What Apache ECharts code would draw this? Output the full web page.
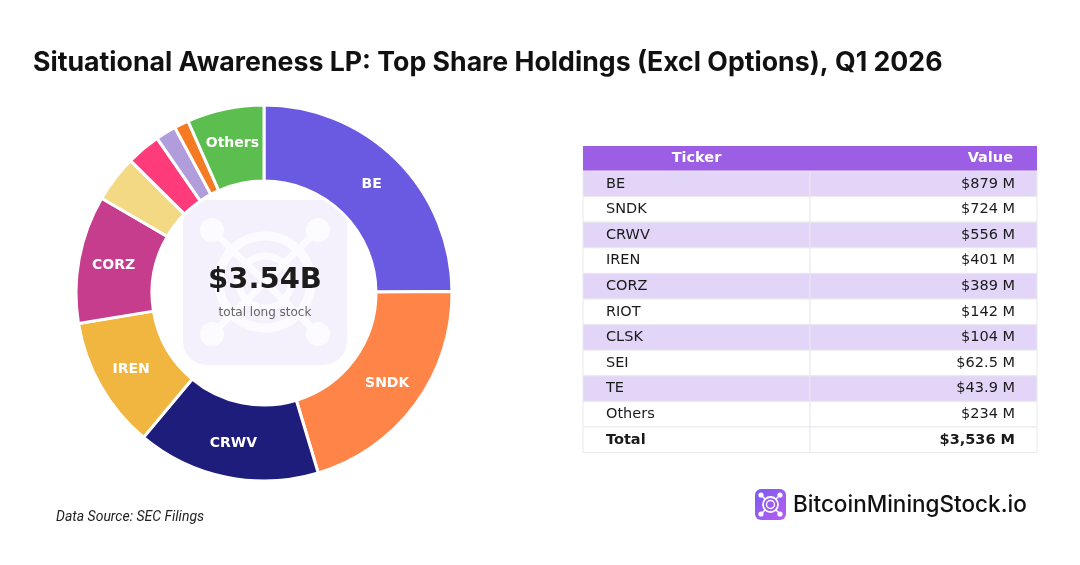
<!DOCTYPE html>
<html><head><meta charset="utf-8">
<script src="https://cdn.jsdelivr.net/npm/echarts@6/dist/echarts.min.js"></script>
<style>html,body{margin:0;padding:0;background:#fff}#c{width:1080px;height:565px}</style>
</head><body><div id="c"></div>
<script>
const tickers = ['BE','SNDK','CRWV','IREN','CORZ','RIOT','CLSK','SEI','TE','Others'];
const valuesM = [879,724,556,401,389,142,104,62.5,43.9,234];
const sliceColors = ['#6a59e1','#ff8447','#1e1d7b','#f0b63f','#c63d8e','#f4d984','#ff3b7b','#b19ddb','#f47b22','#5cbe4f'];
const labelledTickers = ['BE','SNDK','CRWV','IREN','CORZ','Others'];
const totalM = 3536;
const titleText = 'Situational Awareness LP: Top Share Holdings (Excl Options), Q1 2026';

function fmtM(v){ return '$' + (v < 100 ? v.toFixed(1) : Math.round(v).toLocaleString('en-US')) + ' M'; }

const chart = echarts.init(document.getElementById('c'), null, {renderer:'canvas'});

// table layout
const TX = 583, TY = 146, TW = 454, TC = 227, HH = 25, RH = 25.6;
const tableEls = [];
tableEls.push({type:'rect', shape:{x:TX,y:TY,width:TW,height:HH}, style:{fill:'#9b5ee5'}});
tableEls.push({type:'text', x:TX+TC/2, y:TY+HH/2, style:{text:'Ticker', fill:'#fff', font:'bold 14.5px "DejaVu Sans"', align:'center', verticalAlign:'middle'}});
tableEls.push({type:'text', x:TX+TW-24, y:TY+HH/2, style:{text:'Value', fill:'#fff', font:'bold 14.5px "DejaVu Sans"', align:'right', verticalAlign:'middle'}});
const rowNames = tickers.concat(['Total']);
const rowVals = valuesM.concat([totalM]);
rowNames.forEach((n,i)=>{
  const y = TY + HH + i*RH;
  const isTotal = i === rowNames.length-1;
  const fill = (!isTotal && i%2===0) ? '#e2d5f7' : '#ffffff';
  tableEls.push({type:'rect', shape:{x:TX,y:y,width:TC,height:RH}, style:{fill:fill, stroke:'#e9e9ee', lineWidth:1}});
  tableEls.push({type:'rect', shape:{x:TX+TC,y:y,width:TW-TC,height:RH}, style:{fill:fill, stroke:'#e9e9ee', lineWidth:1}});
  const font = (isTotal?'bold ':'') + '14.5px "DejaVu Sans"';
  tableEls.push({type:'text', x:TX+23, y:y+RH/2, style:{text:n, fill:'#1a1a1a', font:font, align:'left', verticalAlign:'middle'}});
  tableEls.push({type:'text', x:TX+TW-22, y:y+RH/2, style:{text:fmtM(rowVals[i]), fill:'#1a1a1a', font:font, align:'right', verticalAlign:'middle'}});
});

// watermark behind centre text
const CX = 265, CY = 282;
const wmLine = '#fcfbff';
const wm = [
  {type:'rect', shape:{x:183,y:200,width:164,height:165,r:24}, style:{fill:'#f4f1fd'}, z:1},
  {type:'line', shape:{x1:212,y1:230,x2:318,y2:334}, style:{stroke:wmLine,lineWidth:7}, z:2},
  {type:'line', shape:{x1:318,y1:230,x2:212,y2:334}, style:{stroke:wmLine,lineWidth:7}, z:2},
  {type:'circle', shape:{cx:CX,cy:CY,r:46}, style:{fill:'none',stroke:wmLine,lineWidth:9}, z:2},
  {type:'circle', shape:{cx:CX,cy:CY,r:26}, style:{fill:'none',stroke:wmLine,lineWidth:7}, z:2},
  {type:'circle', shape:{cx:212,cy:230,r:12}, style:{fill:wmLine}, z:2},
  {type:'circle', shape:{cx:318,cy:230,r:12}, style:{fill:wmLine}, z:2},
  {type:'circle', shape:{cx:212,cy:334,r:12}, style:{fill:wmLine}, z:2},
  {type:'circle', shape:{cx:318,cy:334,r:12}, style:{fill:wmLine}, z:2},
  {type:'text', x:CX, y:280, style:{text:'$' + (totalM/1000).toFixed(2) + 'B', fill:'#1c1c1c', font:'bold 29px "DejaVu Sans"', align:'center', verticalAlign:'middle'}, z:5},
  {type:'text', x:CX, y:313, style:{text:'total long stock', fill:'#666', font:'12px "DejaVu Sans"', align:'center', verticalAlign:'middle'}, z:5}
];

// brand logo
const LX = 755, LY = 489, LS = 31, lc = LX+LS/2, lcy = LY+LS/2;
const logo = [
  {type:'rect', shape:{x:LX,y:LY,width:LS,height:LS,r:6}, style:{fill:new echarts.graphic.LinearGradient(0,0,1,1,[{offset:0,color:'#7a5cf2'},{offset:1,color:'#b65df0'}])}},
  {type:'line', shape:{x1:LX+6,y1:LY+6,x2:LX+LS-6,y2:LY+LS-6}, style:{stroke:'#fff',lineWidth:1.6}},
  {type:'line', shape:{x1:LX+LS-6,y1:LY+6,x2:LX+6,y2:LY+LS-6}, style:{stroke:'#fff',lineWidth:1.6}},
  {type:'circle', shape:{cx:lc,cy:lcy,r:7.5}, style:{fill:'#9a5cf1',stroke:'#fff',lineWidth:1.8}},
  {type:'circle', shape:{cx:lc,cy:lcy,r:4}, style:{fill:'none',stroke:'#fff',lineWidth:1.4}},
  {type:'circle', shape:{cx:LX+6,cy:LY+6,r:2.6}, style:{fill:'#fff'}},
  {type:'circle', shape:{cx:LX+LS-6,cy:LY+6,r:2.6}, style:{fill:'#fff'}},
  {type:'circle', shape:{cx:LX+6,cy:LY+LS-6,r:2.6}, style:{fill:'#fff'}},
  {type:'circle', shape:{cx:LX+LS-6,cy:LY+LS-6,r:2.6}, style:{fill:'#fff'}},
  {type:'text', x:793, y:505, style:{text:'BitcoinMiningStock.io', fill:'#111', font:'500 22.5px Inter', align:'left', verticalAlign:'middle'}}
];

chart.setOption({
  backgroundColor:'#ffffff',
  animation:false,
  title:{text:titleText, left:28, top:44, textStyle:{fontFamily:'Inter', fontWeight:'bold', fontSize:26.7, color:'#111'}},
  graphic:[].concat(tableEls, wm, logo, [
    {type:'text', x:56, y:517, style:{text:'Data Source: SEC Filings', fill:'#222', font:'italic 14px Roboto', align:'left', verticalAlign:'middle'}}
  ]),
  series:[{
    type:'pie',
    center:[264,293],
    radius:[112,188],
    startAngle:90,
    clockwise:true,
    avoidLabelOverlap:false,
    itemStyle:{borderColor:'#fff', borderWidth:3},
    label:{show:true, position:'inside', color:'#fff', fontFamily:'DejaVu Sans', fontWeight:'bold', fontSize:14,
      formatter:p => labelledTickers.indexOf(p.name) >= 0 ? p.name : ''},
    labelLine:{show:false},
    emphasis:{disabled:true},
    data:tickers.map((t,i)=>({name:t, value:valuesM[i], itemStyle:{color:sliceColors[i]}}))
  }]
});
</script></body></html>
